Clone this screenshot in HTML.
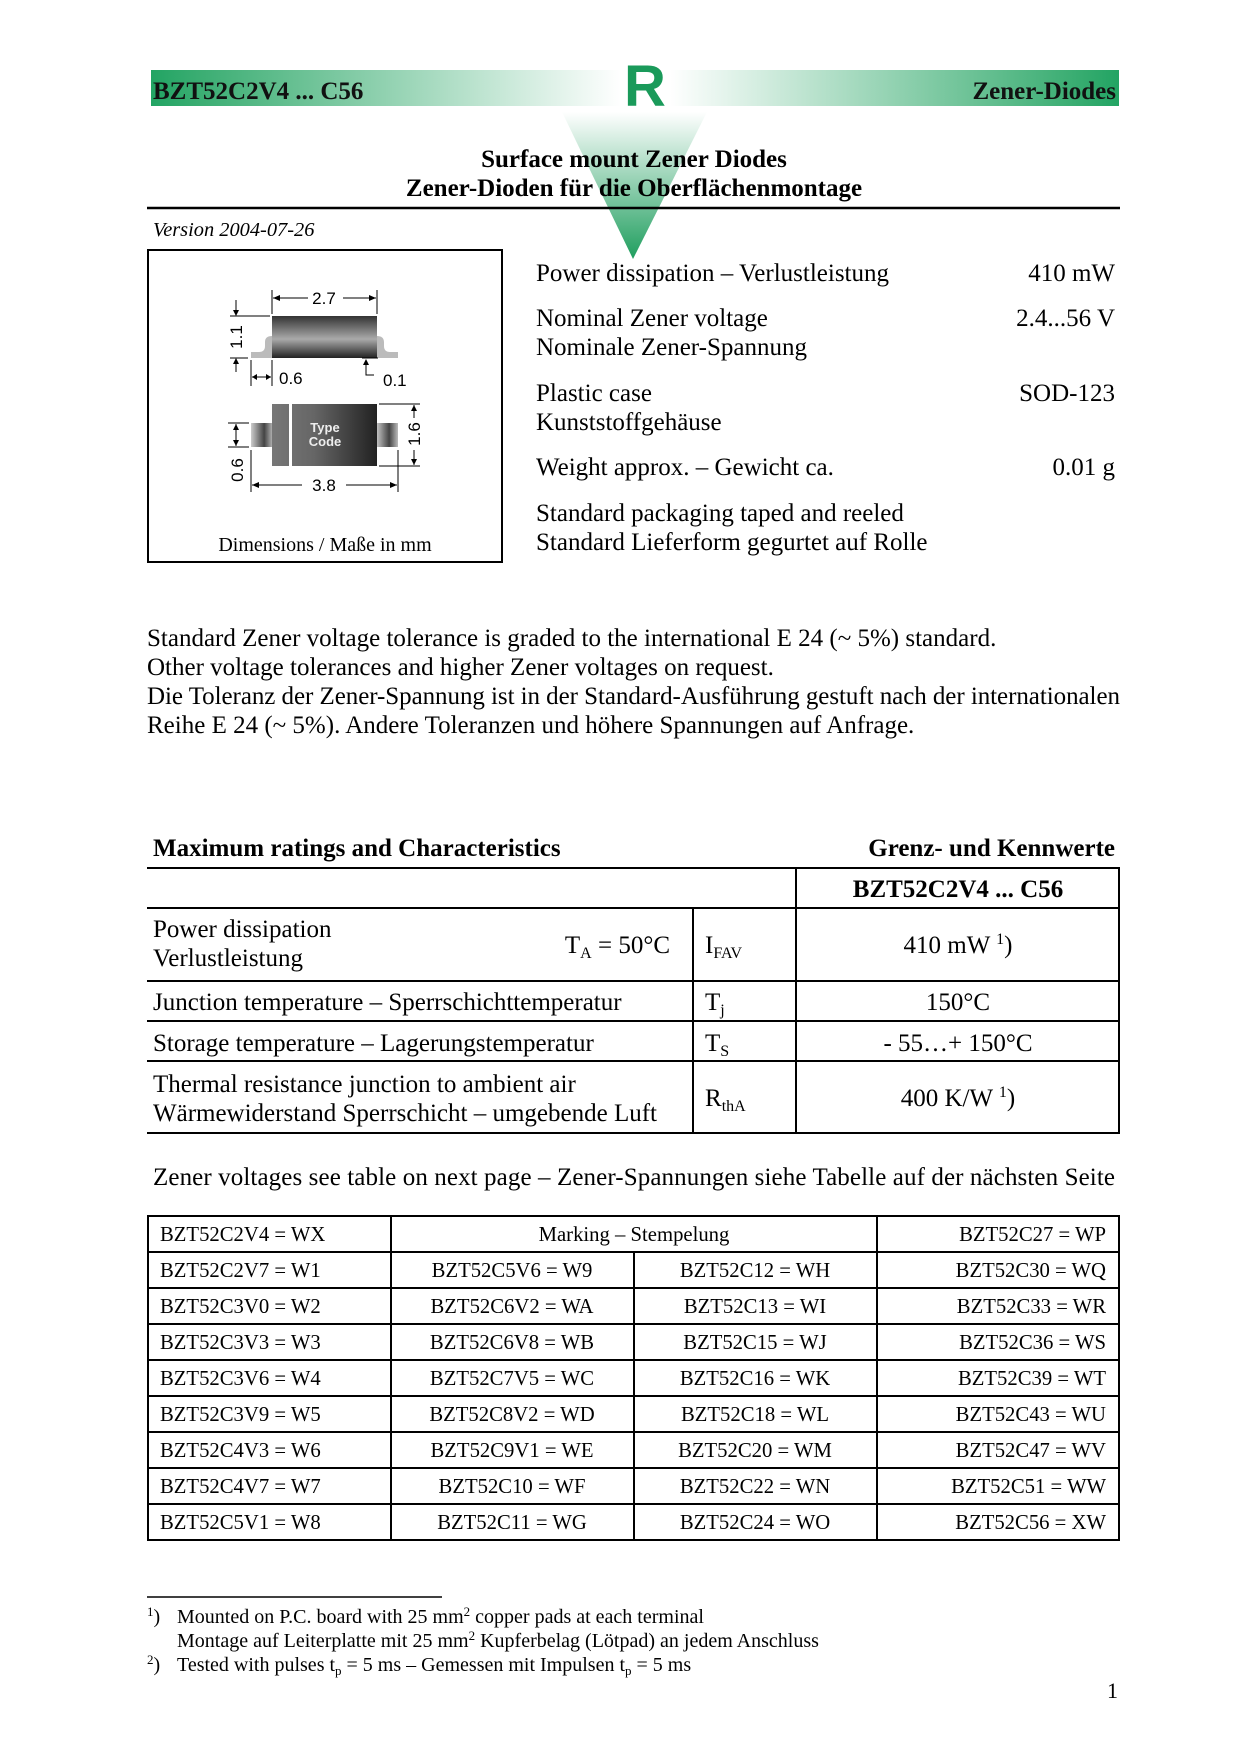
<!DOCTYPE html>
<html><head><meta charset="utf-8"><style>html,body{margin:0;padding:0;background:#fff}svg{display:block}</style></head><body>
<svg width="1240" height="1754" viewBox="0 0 1240 1754" xmlns="http://www.w3.org/2000/svg" font-family="Liberation Serif, serif">
<defs>
<linearGradient id="gl" x1="0" x2="1" y1="0" y2="0"><stop offset="0" stop-color="#22a463"/><stop offset="0.1" stop-color="#3aad72"/><stop offset="1" stop-color="#fff"/></linearGradient>
<linearGradient id="gr" x1="0" x2="1" y1="0" y2="0"><stop offset="0" stop-color="#fff"/><stop offset="0.9" stop-color="#3aad72"/><stop offset="1" stop-color="#22a463"/></linearGradient>
<linearGradient id="gt" x1="0" x2="0" y1="0" y2="1"><stop offset="0" stop-color="#fff"/><stop offset="1" stop-color="#1f9e5e"/></linearGradient>
<linearGradient id="body" x1="0" x2="0" y1="0" y2="1"><stop offset="0" stop-color="#333"/><stop offset="0.55" stop-color="#aaa"/><stop offset="1" stop-color="#222"/></linearGradient>
<linearGradient id="body2" x1="0" x2="1" y1="0" y2="0"><stop offset="0" stop-color="#777"/><stop offset="0.4" stop-color="#666"/><stop offset="1" stop-color="#222"/></linearGradient>
<linearGradient id="lead" x1="0" x2="1" y1="0" y2="0"><stop offset="0" stop-color="#ccc"/><stop offset="0.6" stop-color="#444"/><stop offset="1" stop-color="#bbb"/></linearGradient>
</defs>
<rect x="151" y="70" width="470" height="36" fill="url(#gl)"/>
<rect x="670" y="70" width="449" height="36" fill="url(#gr)"/>
<polygon points="562,112 707,112 633,259" fill="url(#gt)"/>
<text x="645" y="106" text-anchor="middle" font-family="Liberation Sans, sans-serif" font-weight="bold" font-size="58" fill="#1a9a5a">R</text>
<text x="153" y="99" font-weight="bold" font-size="25" fill="#111">BZT52C2V4 ... C56</text>
<text x="1116" y="99" text-anchor="end" font-weight="bold" font-size="25" fill="#111">Zener-Diodes</text>
<text x="634" y="167" text-anchor="middle" font-weight="bold" font-size="25">Surface mount Zener Diodes</text>
<text x="634" y="196" text-anchor="middle" font-weight="bold" font-size="25">Zener-Dioden für die Oberflächenmontage</text>
<line x1="147" y1="208" x2="1120" y2="208" stroke="#000" stroke-width="2.5"/>
<text x="153" y="236" font-style="italic" font-size="20.4">Version 2004-07-26</text>
<rect x="148" y="250" width="354" height="312" fill="none" stroke="#000" stroke-width="2"/>
<g font-family="Liberation Sans, sans-serif" font-size="17">
<path d="M251,352 h8 q6,0 6,-6 v-4 q0,-6 7,-6 v22 h-21z" fill="#bbb"/>
<path d="M398,352 h-8 q-6,0 -6,-6 v-4 q0,-6 -7,-6 v22 h21z" fill="#bbb"/>
<rect x="272" y="316" width="105" height="42" fill="url(#body)"/>
<line x1="272" y1="290" x2="272" y2="314" stroke="#000"/><line x1="377" y1="290" x2="377" y2="314" stroke="#000"/>
<line x1="273" y1="298" x2="308" y2="298" stroke="#000"/><line x1="343" y1="298" x2="376" y2="298" stroke="#000"/>
<path d="M273,298 l7,-3 v6z M376,298 l-7,-3 v6z"/>
<text x="324" y="304" text-anchor="middle">2.7</text>
<line x1="230" y1="316" x2="270" y2="316" stroke="#000"/><line x1="230" y1="358" x2="248" y2="358" stroke="#000"/>
<line x1="236" y1="300" x2="236" y2="315" stroke="#000"/><line x1="236" y1="359" x2="236" y2="372" stroke="#000"/>
<path d="M236,316 l-3,-6 h6z M236,358 l-3,6 h6z"/>
<text transform="translate(242,337) rotate(-90)" text-anchor="middle">1.1</text>
<line x1="251" y1="360" x2="251" y2="386" stroke="#000"/><line x1="272" y1="360" x2="272" y2="386" stroke="#000"/>
<line x1="252" y1="377" x2="271" y2="377" stroke="#000"/><path d="M252,377 l5,-3 v6z M271,377 l-5,-3 v6z"/>
<text x="279" y="384">0.6</text>
<line x1="362" y1="358" x2="378" y2="358" stroke="#000"/><path d="M366,359 l-3,6 h6z"/><polyline points="366,364 366,375 374,375" fill="none" stroke="#000"/>
<text x="383" y="386">0.1</text>
<rect x="251" y="423" width="22" height="24" fill="url(#lead)"/>
<rect x="376" y="423" width="22" height="24" fill="url(#lead)"/>
<rect x="272" y="404" width="105" height="62" fill="url(#body2)"/>
<rect x="289" y="404" width="3" height="62" fill="#fff"/>
<text x="325" y="432" text-anchor="middle" font-size="13" font-weight="bold" fill="#eee">Type</text>
<text x="325" y="446" text-anchor="middle" font-size="13" font-weight="bold" fill="#eee">Code</text>
<line x1="228" y1="423" x2="249" y2="423" stroke="#000"/><line x1="228" y1="447" x2="249" y2="447" stroke="#000"/>
<line x1="236" y1="424" x2="236" y2="446" stroke="#000"/><path d="M236,424 l-3,6 h6z M236,446 l-3,-6 h6z"/>
<text transform="translate(243,470) rotate(-90)" text-anchor="middle">0.6</text>
<line x1="379" y1="404" x2="420" y2="404" stroke="#000"/><line x1="379" y1="466" x2="420" y2="466" stroke="#000"/>
<line x1="414" y1="405" x2="414" y2="418" stroke="#000"/><line x1="414" y1="450" x2="414" y2="465" stroke="#000"/>
<path d="M414,405 l-3,6 h6z M414,465 l-3,-6 h6z"/>
<text transform="translate(420,434) rotate(-90)" text-anchor="middle">1.6</text>
<line x1="251" y1="450" x2="251" y2="492" stroke="#000"/><line x1="398" y1="450" x2="398" y2="492" stroke="#000"/>
<line x1="252" y1="485" x2="302" y2="485" stroke="#000"/><line x1="346" y1="485" x2="397" y2="485" stroke="#000"/>
<path d="M252,485 l7,-3 v6z M397,485 l-7,-3 v6z"/>
<text x="324" y="491" text-anchor="middle">3.8</text>
</g>
<text x="325" y="551" text-anchor="middle" font-size="20">Dimensions / Maße in mm</text>
<g font-size="25">
<text x="536" y="281">Power dissipation – Verlustleistung</text>
<text x="1115" y="281" text-anchor="end">410 mW</text>
<text x="536" y="326">Nominal Zener voltage</text>
<text x="1115" y="326" text-anchor="end">2.4...56 V</text>
<text x="536" y="355">Nominale Zener-Spannung</text>
<text x="536" y="401">Plastic case</text>
<text x="1115" y="401" text-anchor="end">SOD-123</text>
<text x="536" y="430">Kunststoffgehäuse</text>
<text x="536" y="475">Weight approx. – Gewicht ca.</text>
<text x="1115" y="475" text-anchor="end">0.01 g</text>
<text x="536" y="521">Standard packaging taped and reeled</text>
<text x="536" y="550">Standard Lieferform gegurtet auf Rolle</text>
<text x="147" y="646">Standard Zener voltage tolerance is graded to the international E 24 (~ 5%) standard.</text>
<text x="147" y="675">Other voltage tolerances and higher Zener voltages on request.</text>
<text x="147" y="704" textLength="973" lengthAdjust="spacing">Die Toleranz der Zener-Spannung ist in der Standard-Ausführung gestuft nach der internationalen</text>
<text x="147" y="733">Reihe E 24 (~ 5%). Andere Toleranzen und höhere Spannungen auf Anfrage.</text>
</g>
<text x="153" y="856" font-weight="bold" font-size="25">Maximum ratings and Characteristics</text>
<text x="1115" y="856" text-anchor="end" font-weight="bold" font-size="25">Grenz- und Kennwerte</text>
<g stroke="#000" stroke-width="2">
<line x1="147" y1="868" x2="1120" y2="868"/><line x1="147" y1="908" x2="1120" y2="908"/>
<line x1="147" y1="981" x2="1120" y2="981"/><line x1="147" y1="1021" x2="1120" y2="1021"/>
<line x1="147" y1="1061" x2="1120" y2="1061"/><line x1="147" y1="1133" x2="1120" y2="1133"/>
<line x1="796" y1="868" x2="796" y2="1133"/><line x1="693" y1="908" x2="693" y2="1133"/>
<line x1="1119" y1="868" x2="1119" y2="1133"/>
</g>
<g font-size="25">
<text x="958" y="897" text-anchor="middle" font-weight="bold">BZT52C2V4 ... C56</text>
<text x="153" y="937">Power dissipation</text>
<text x="153" y="966">Verlustleistung</text>
<text x="670" y="953" text-anchor="end">T<tspan font-size="16" dy="5">A</tspan><tspan dy="-5"> = 50°C</tspan></text>
<text x="705" y="953">I<tspan font-size="16" dy="5">FAV</tspan></text>
<text x="958" y="953" text-anchor="middle">410 mW <tspan font-size="16" dy="-9">1</tspan><tspan dy="9">)</tspan></text>
<text x="153" y="1010">Junction temperature – Sperrschichttemperatur</text>
<text x="705" y="1010">T<tspan font-size="16" dy="5">j</tspan></text>
<text x="958" y="1010" text-anchor="middle">150°C</text>
<text x="153" y="1051">Storage temperature – Lagerungstemperatur</text>
<text x="705" y="1051">T<tspan font-size="16" dy="5">S</tspan></text>
<text x="958" y="1051" text-anchor="middle">- 55…+ 150°C</text>
<text x="153" y="1092">Thermal resistance junction to ambient air</text>
<text x="153" y="1121">Wärmewiderstand Sperrschicht – umgebende Luft</text>
<text x="705" y="1106">R<tspan font-size="16" dy="5">thA</tspan></text>
<text x="958" y="1106" text-anchor="middle">400 K/W <tspan font-size="16" dy="-9">1</tspan><tspan dy="9">)</tspan></text>
<text x="153" y="1185" textLength="962" lengthAdjust="spacing">Zener voltages see table on next page  – Zener-Spannungen siehe Tabelle auf der nächsten Seite</text>
</g>
<g stroke="#000" stroke-width="2" fill="none">
<rect x="148" y="1216" width="971" height="324"/>
<line x1="391" y1="1216" x2="391" y2="1540"/><line x1="877" y1="1216" x2="877" y2="1540"/>
<line x1="634" y1="1252" x2="634" y2="1540"/>
<line x1="147" y1="1252" x2="1120" y2="1252"/><line x1="147" y1="1288" x2="1120" y2="1288"/>
<line x1="147" y1="1324" x2="1120" y2="1324"/><line x1="147" y1="1360" x2="1120" y2="1360"/>
<line x1="147" y1="1396" x2="1120" y2="1396"/><line x1="147" y1="1432" x2="1120" y2="1432"/>
<line x1="147" y1="1468" x2="1120" y2="1468"/><line x1="147" y1="1504" x2="1120" y2="1504"/>
</g>
<g font-size="20.7">
<text x="160" y="1241">BZT52C2V4 = WX</text><text x="634" y="1241" text-anchor="middle">Marking – Stempelung</text><text x="1106" y="1241" text-anchor="end">BZT52C27 = WP</text>
<text x="160" y="1277">BZT52C2V7 = W1</text><text x="512" y="1277" text-anchor="middle">BZT52C5V6 = W9</text><text x="755" y="1277" text-anchor="middle">BZT52C12 = WH</text><text x="1106" y="1277" text-anchor="end">BZT52C30 = WQ</text>
<text x="160" y="1313">BZT52C3V0 = W2</text><text x="512" y="1313" text-anchor="middle">BZT52C6V2 = WA</text><text x="755" y="1313" text-anchor="middle">BZT52C13 = WI</text><text x="1106" y="1313" text-anchor="end">BZT52C33 = WR</text>
<text x="160" y="1349">BZT52C3V3 = W3</text><text x="512" y="1349" text-anchor="middle">BZT52C6V8 = WB</text><text x="755" y="1349" text-anchor="middle">BZT52C15 = WJ</text><text x="1106" y="1349" text-anchor="end">BZT52C36 = WS</text>
<text x="160" y="1385">BZT52C3V6 = W4</text><text x="512" y="1385" text-anchor="middle">BZT52C7V5 = WC</text><text x="755" y="1385" text-anchor="middle">BZT52C16 = WK</text><text x="1106" y="1385" text-anchor="end">BZT52C39 = WT</text>
<text x="160" y="1421">BZT52C3V9 = W5</text><text x="512" y="1421" text-anchor="middle">BZT52C8V2 = WD</text><text x="755" y="1421" text-anchor="middle">BZT52C18 = WL</text><text x="1106" y="1421" text-anchor="end">BZT52C43 = WU</text>
<text x="160" y="1457">BZT52C4V3 = W6</text><text x="512" y="1457" text-anchor="middle">BZT52C9V1 = WE</text><text x="755" y="1457" text-anchor="middle">BZT52C20 = WM</text><text x="1106" y="1457" text-anchor="end">BZT52C47 = WV</text>
<text x="160" y="1493">BZT52C4V7 = W7</text><text x="512" y="1493" text-anchor="middle">BZT52C10 = WF</text><text x="755" y="1493" text-anchor="middle">BZT52C22 = WN</text><text x="1106" y="1493" text-anchor="end">BZT52C51 = WW</text>
<text x="160" y="1529">BZT52C5V1 = W8</text><text x="512" y="1529" text-anchor="middle">BZT52C11 = WG</text><text x="755" y="1529" text-anchor="middle">BZT52C24 = WO</text><text x="1106" y="1529" text-anchor="end">BZT52C56 = XW</text>
</g>
<line x1="147" y1="1597" x2="442" y2="1597" stroke="#000" stroke-width="1.5"/>
<g font-size="20">
<text x="147" y="1623"><tspan font-size="13" dy="-7">1</tspan><tspan dy="7">)</tspan></text>
<text x="177" y="1623">Mounted on P.C. board with 25 mm<tspan font-size="13" dy="-7">2</tspan><tspan dy="7"> copper pads at each terminal</tspan></text>
<text x="177" y="1647">Montage auf Leiterplatte mit 25 mm<tspan font-size="13" dy="-7">2</tspan><tspan dy="7"> Kupferbelag (Lötpad) an jedem Anschluss</tspan></text>
<text x="147" y="1671"><tspan font-size="13" dy="-7">2</tspan><tspan dy="7">)</tspan></text>
<text x="177" y="1671">Tested with pulses t<tspan font-size="13" dy="4">p</tspan><tspan dy="-4"> = 5 ms – Gemessen mit Impulsen t</tspan><tspan font-size="13" dy="4">p</tspan><tspan dy="-4"> = 5 ms</tspan></text>
</g>
<text x="1118" y="1698" text-anchor="end" font-size="22">1</text>
</svg>
</body></html>
